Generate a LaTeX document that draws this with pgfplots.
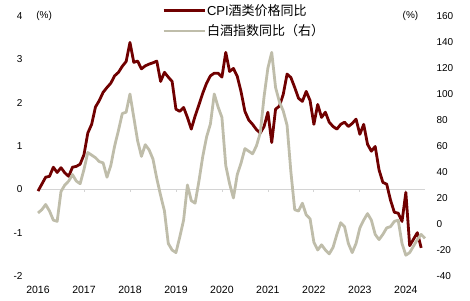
\documentclass[border=0pt]{standalone}
\usepackage{pgfplots}
\pgfplotsset{compat=1.18}
\usepackage{fontspec}
\setmainfont{Liberation Sans}
\newfontfamily\cjk{Noto Sans CJK SC}
\definecolor{cpired}{HTML}{700000}
\definecolor{baijiu}{HTML}{BFBDAA}
\definecolor{zerogrey}{HTML}{D4D4D4}

\pgfplotstableread{
m v
0 -0.04
1 0.12
2 0.28
3 0.30
4 0.51
5 0.39
6 0.50
7 0.38
8 0.30
9 0.51
10 0.53
11 0.58
12 0.80
13 1.30
14 1.50
15 1.90
16 2.05
17 2.24
18 2.35
19 2.45
20 2.62
21 2.70
22 2.84
23 2.95
24 3.39
25 2.93
26 2.96
27 2.78
28 2.85
29 2.89
30 2.92
31 2.96
32 2.49
33 2.70
34 2.59
35 2.49
36 1.85
37 1.80
38 1.89
39 1.66
40 1.39
41 1.69
42 1.95
43 2.22
44 2.45
45 2.62
46 2.68
47 2.68
48 2.59
49 3.16
50 2.72
51 2.79
52 2.61
53 2.25
54 1.80
55 1.60
56 1.50
57 1.38
58 1.30
59 1.45
60 1.78
61 1.08
62 1.85
63 1.92
64 2.19
65 2.66
66 2.58
67 2.35
68 2.10
69 2.03
70 2.26
71 2.05
72 1.50
73 1.96
74 1.66
75 1.78
76 1.55
77 1.45
78 1.39
79 1.50
80 1.55
81 1.45
82 1.52
83 1.62
84 1.27
85 1.50
86 1.04
87 0.88
88 0.99
89 0.45
90 0.16
91 0.12
92 -0.25
93 -0.53
94 -0.55
95 -0.74
96 -0.07
97 -1.30
98 -1.15
99 -1.00
100 -1.35
}\cpidata

\pgfplotstableread{
m v
0 8.5
1 11
2 15
3 10
4 3
5 2
6 25
7 30
8 33
9 38
10 33
11 31
12 42
13 55
14 53
15 51
16 48
17 47
18 36
19 45
20 60
21 72
22 85
23 86
24 100
25 82
26 64
27 52
28 61
29 57
30 50
31 35
32 22
33 10
34 -15
35 -20
36 -22
37 -10
38 3
39 30
40 18
41 16
42 33
43 52
44 67
45 77
46 100
47 90
48 82
49 45
50 31
51 20
52 38
53 47
54 58
55 56
56 54
57 60
58 70
59 98
60 120
61 132
62 105
63 94
64 87
65 76
66 40
67 11
68 10
69 16
70 7
71 4
72 -14
73 -20
74 -16
75 -20
76 -23
77 -18
78 -8
79 1
80 -2
81 -15
82 -22
83 -15
84 -3
85 3
86 8
87 3
88 -8
89 -12
90 -8
91 -3
92 -2
93 2
94 3
95 -15
96 -24
97 -22
98 -17
99 -12
100 -8
101 -11
}\baijiudata

\begin{document}
\begin{tikzpicture}
\pgfplotsset{
  common/.style={
    scale only axis, width=387pt, height=260pt,
    at={(0,0)}, anchor=south west,
    xmin=0, xmax=101,
    axis line style={draw=none},
    major tick length=0pt,
    tick label style={font=\fontsize{10}{12}\selectfont},
    /pgf/number format/assume math mode=true,
  }
}
% left axis: CPI
\begin{axis}[common,
  ymin=-2, ymax=4, ytick={-2,-1,0,1,2,3,4},
  xtick={0,12,24,36,48,60,72,84,96},
  xticklabels={2016,2017,2018,2019,2020,2021,2022,2023,2024},
  xticklabel style={anchor=base, yshift=-17pt, font=\fontsize{10.5}{12}\selectfont},
  yticklabel style={anchor=east, xshift=-12pt},
  clip=false,
]
\draw[zerogrey, line width=1.3pt] (axis cs:0,0) -- (axis cs:101,0);
\pgfplotsinvokeforeach{12,24,36,48,60,72,84,96}{
  \draw[zerogrey, line width=0.8pt] (axis cs:#1,0) -- (axis cs:#1,-0.07);
}
\addplot[cpired, line width=2.8pt, line join=round] table[x=m,y=v] {\cpidata};
\node[font=\fontsize{10}{12}\selectfont] at (rel axis cs:0.016,1) {(\%)};
\node[font=\fontsize{10}{12}\selectfont] at (rel axis cs:0.9625,1) {(\%)};
\end{axis}
% right axis: baijiu
\begin{axis}[common,
  ymin=-40, ymax=160, ytick={-40,-20,0,20,40,60,80,100,120,140,160},
  xtick=\empty,
  axis y line*=right,
  yticklabel style={anchor=west, xshift=8pt},
  legend style={at={(0.3204,1.05)}, anchor=north west, draw=none, fill=none,
    font=\fontsize{13}{15}\selectfont, row sep=6pt, inner sep=0pt,
    nodes={inner sep=1pt}},
  legend cell align=left,
  legend image code/.code={\draw[#1, line width=2.8pt] (0pt,0pt) -- (41pt,0pt);},
  clip=false,
]
\addlegendimage{cpired}
\addlegendentry{CPI{\cjk 酒类价格同比}}
\addplot[baijiu, line width=2.8pt, line join=round] table[x=m,y=v] {\baijiudata};
\addlegendentry{{\cjk 白酒指数同比（右）}}
\end{axis}
\pgfresetboundingbox
\path (-38pt,-24pt) rectangle (432pt,276pt);
\end{tikzpicture}
\end{document}
